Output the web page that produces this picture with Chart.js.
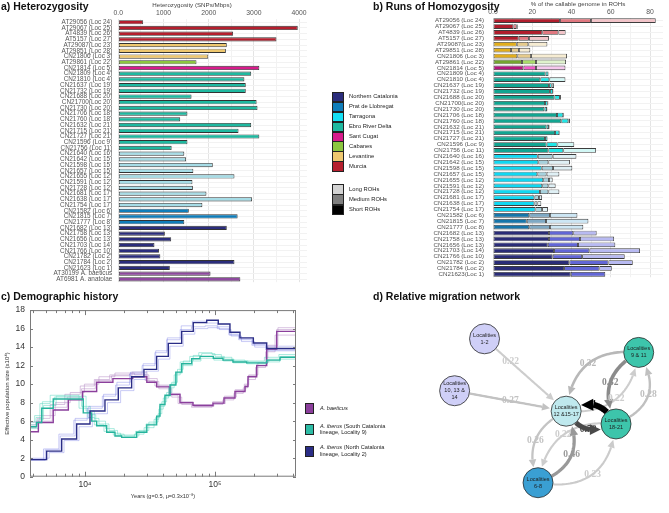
<!DOCTYPE html>
<html>
<head>
<meta charset="utf-8">
<script src="https://cdn.jsdelivr.net/npm/chart.js@4.4.1/dist/chart.umd.min.js"></script>
<style>
  body { margin: 0; background: #fff; }
  #page { position: relative; width: 669px; height: 513px; overflow: hidden;
          font-family: 'Liberation Sans', Arial, sans-serif; color: #222; }
  canvas { position: absolute; }
  .ptitle { position: absolute; font-weight: bold; font-size: 10.5px; line-height: 12px; white-space: nowrap; color: #111; }
  .axt { position: absolute; font-size: 6.2px; line-height: 8px; white-space: nowrap; color: #444; }
  .lbox { position: absolute; border: 1px solid #222; box-sizing: border-box; }
  .ltxt { position: absolute; font-size: 5.8px; line-height: 7px; white-space: nowrap; color: #222; }
  .ctxt { position: absolute; font-size: 5.6px; line-height: 6.6px; white-space: nowrap; color: #222; }
</style>
</head>
<body>
<div id="page">
  <canvas id="chartA" width="312" height="292" style="left:0;top:0"></canvas>
  <canvas id="chartB" width="289" height="290" style="left:380px;top:0"></canvas>
  <canvas id="chartC" width="300" height="213" style="left:0;top:300px"></canvas>
  <canvas id="chartD" width="339" height="213" style="left:330px;top:300px"></canvas>
  <div class="ptitle" style="left:1px;top:0px">a) Heterozygosity</div>
  <div class="ptitle" style="left:373px;top:0px">b) Runs of Homozygosity</div>
  <div class="ptitle" style="left:1px;top:290px">c) Demographic history</div>
  <div class="ptitle" style="left:373px;top:290px">d) Relative migration network</div>
  <div class="axt" style="left:192px;top:1px;transform:translateX(-50%)">Heterozygosity (SNPs/Mbps)</div>
  <div id="legendAB"></div>
  <div id="legendC"></div>
</div>
<script>
// ---- panel a: heterozygosity ----
const sampleLabelsA = [
  'AT29056 (Loc 24)', 'AT29067 (Loc 25)', 'AT4839 (Loc 26)', 'AT5157 (Loc 27)', 'AT29087(Loc 23)',
  'AT29851 (Loc 28)', 'CN21806 (Loc 3)', 'AT29861 (Loc 22)', 'CN21814 (Loc 5)', 'CN21809 (Loc 4)',
  'CN21810 (Loc 4)', 'CN21637 (Loc 19)', 'CN21732 (Loc 19)', 'CN21688 (Loc 20)', 'CN21700(Loc 20)',
  'CN21730 (Loc 20)', 'CN21706 (Loc 18)', 'CN21760 (Loc 18)', 'CN21632 (Loc 21)', 'CN21715 (Loc 21)',
  'CN21727 (Loc 21)', 'CN21596 (Loc 9)', 'CN21756 (Loc 11)', 'CN21640 (Loc 16)', 'CN21642 (Loc 15)',
  'CN21598 (Loc 15)', 'CN21657 (Loc 15)', 'CN21655 (Loc 12)', 'CN21591 (Loc 12)', 'CN21728 (Loc 12)',
  'CN21681 (Loc 17)', 'CN21638 (Loc 17)', 'CN21754 (Loc 17)', 'CN21582 (Loc 6)', 'CN21815 (Loc 7)',
  'CN21777 (Loc 8)', 'CN21682 (Loc 13)', 'CN21758 (Loc 13)', 'CN21656 (Loc 13)', 'CN21703 (Loc 14)',
  'CN21766 (Loc 10)', 'CN21782 (Loc 2)', 'CN21784 (Loc 2)', 'CN21623 (Loc 1)', 'AT30199 A. baeticus',
  'AT6981 A. anatolae'
];
const heterozygosity = [
  550, 3970, 2540, 3500, 2400, 2380, 1990, 1730, 3120, 2940,
  2790, 2820, 2820, 1620, 3060, 3080, 1530, 1370, 2940, 2660,
  3120, 1530, 1180, 1460, 1500, 2090, 1660, 2570, 1640, 1650,
  1950, 2960, 1860, 1560, 2640, 1460, 2400, 1030, 1170, 800,
  900, 930, 2570, 1140, 2040, 2700
];
const regionA = [
  'MU', 'MU', 'MU', 'MU', 'LE', 'LE', 'LE', 'CA', 'SC', 'EB',
  'EB', 'EB', 'EB', 'EB', 'EB', 'EB', 'EB', 'EB', 'EB', 'EB',
  'EB', 'EB', 'EB', 'TA', 'TA', 'TA', 'TA', 'TA', 'TA', 'TA',
  'TA', 'TA', 'TA', 'PR', 'PR', 'PR', 'NC', 'NC', 'NC', 'NC',
  'NC', 'NC', 'NC', 'NC', 'SP', 'SP'
];
const hetTicks = [0, 500, 1000, 1500, 2000, 2500, 3000, 3500, 4000];

// ---- panel b: runs of homozygosity (% of callable genome) ----
const sampleLabelsB = [
  'AT29056 (Loc 24)', 'AT29067 (Loc 25)', 'AT4839 (Loc 26)', 'AT5157 (Loc 27)', 'AT29087(Loc 23)',
  'AT29851 (Loc 28)', 'CN21806 (Loc 3)', 'AT29861 (Loc 22)', 'CN21814 (Loc 5)', 'CN21809 (Loc 4)',
  'CN21810 (Loc 4)', 'CN21637 (Loc 19)', 'CN21732 (Loc 19)', 'CN21688 (Loc 20)', 'CN21700(Loc 20)',
  'CN21730 (Loc 20)', 'CN21706 (Loc 18)', 'CN21760 (Loc 18)', 'CN21632 (Loc 21)', 'CN21715 (Loc 21)',
  'CN21727 (Loc 21)', 'CN21596 (Loc 9)', 'CN21756 (Loc 11)', 'CN21640 (Loc 16)', 'CN21642 (Loc 15)',
  'CN21598 (Loc 15)', 'CN21657 (Loc 15)', 'CN21655 (Loc 12)', 'CN21591 (Loc 12)', 'CN21728 (Loc 12)',
  'CN21681 (Loc 17)', 'CN21638 (Loc 17)', 'CN21754 (Loc 17)', 'CN21582 (Loc 6)', 'CN21815 (Loc 7)',
  'CN21777 (Loc 8)', 'CN21682 (Loc 13)', 'CN21758 (Loc 13)', 'CN21656 (Loc 13)', 'CN21703 (Loc 14)',
  'CN21766 (Loc 10)', 'CN21782 (Loc 2)', 'CN21784 (Loc 2)', 'CN21623(Loc 1)'
];
const rohShort = [
  34.1, 10.4, 25.1, 13.1, 12.1, 9.2, 12.4, 14.8, 15.5, 26.8,
  24.1, 28.5, 29.0, 31.3, 26.5, 26.2, 32.6, 34.8, 27.3, 31.6,
  26.5, 27.3, 28.2, 22.8, 23.1, 24.8, 22.6, 25.6, 25.1, 23.9,
  21.1, 21.1, 21.6, 18.5, 17.2, 18.5, 28.5, 28.5, 27.9, 31.1,
  30.4, 38.9, 36.2, 39.6
];
const rohMedium = [
  15.8, 1.7, 8.2, 5.2, 5.9, 4.0, 7.0, 7.1, 6.4, 1.4,
  4.6, 1.4, 1.6, 2.8, 1.4, 1.3, 3.2, 3.6, 1.2, 2.2,
  1.2, 5.5, 7.6, 7.6, 5.1, 5.8, 4.7, 2.9, 3.1, 4.3,
  2.3, 1.5, 3.4, 10.5, 9.8, 10.5, 12.4, 15.8, 15.4, 18.0,
  15.0, 19.9, 18.0, 17.6
];
const rohLong = [
  33.0, 0.5, 3.7, 10.2, 9.7, 5.8, 18.3, 15.3, 15.0, 0.2,
  8.2, 1.2, 0.2, 0.5, 0.3, 0.2, 0.4, 0.8, 0.3, 0.3,
  0.2, 8.6, 16.7, 12.1, 11.0, 9.8, 6.5, 1.9, 3.7, 5.6,
  1.6, 2.0, 3.0, 14.0, 21.6, 17.0, 11.9, 17.4, 19.0, 25.8,
  21.7, 12.4, 6.3, 0
];
const regionB = regionA.slice(0, 44);
const rohTicks = [0, 10, 20, 30, 40, 50, 60, 70, 80];

// ---- panel c: PSMC curves (years, Ne x10^4) ----
const baeticusT = [3700, 4380, 5700, 7450, 9600, 12300, 16400, 23300, 29900, 35600, 45100, 53800, 67700, 96600, 117300, 142500, 170200, 179500, 209300, 250000, 298600, 420000];
const baeticusNe = [4.85, 5.85, 7.2, 8.3, 9.2, 10.2, 10.6, 10.8, 10.2, 9.7, 8.9, 8.0, 7.7, 7.95, 8.5, 9.2, 9.75, 10.8, 12.0, 13.8, 15.7, 15.7];
const baeticusRep1T = [3700, 4300, 5400, 7000, 9200, 11800, 15500, 22000, 29000, 34500, 44000, 52000, 66000, 95000, 115000, 140000, 165000, 178000, 205000, 245000, 290000, 420000];
const baeticusRep1Ne = [5.6, 6.3, 7.8, 8.9, 9.8, 10.5, 11.0, 11.1, 10.4, 9.8, 8.8, 7.9, 7.5, 7.8, 8.3, 9.0, 9.6, 10.5, 11.8, 13.5, 15.3, 15.3];
const baeticusRep2T = [3700, 4500, 5900, 7700, 9900, 12800, 17000, 24000, 31000, 37000, 46500, 55500, 69500, 98000, 120000, 146000, 172000, 182000, 214000, 255000, 305000, 420000];
const baeticusRep2Ne = [5.9, 6.6, 8.0, 9.1, 10.0, 10.8, 11.2, 11.0, 10.3, 9.5, 8.6, 7.8, 7.6, 7.9, 8.6, 9.3, 9.9, 11.0, 12.3, 14.2, 16.1, 16.1];
const baeticusRep3T = [3700, 4200, 5600, 7300, 9400, 12000, 16000, 23000, 30000, 36000, 45000, 54000, 68000, 96000, 118000, 143000, 168000, 180000, 210000, 250000, 298000, 420000];
const baeticusRep3Ne = [5.3, 6.0, 7.5, 8.6, 9.5, 10.4, 10.9, 11.3, 10.6, 9.9, 9.0, 8.1, 7.8, 8.1, 8.7, 9.4, 10.0, 10.9, 12.2, 14.0, 15.9, 15.9];

const southT = [3700, 4250, 4650, 5700, 9700, 11260, 12300, 14690, 17020, 19150, 24990, 29900, 35600, 37760, 41250, 45100, 50000, 55460, 66200, 76680, 97100, 115300, 137500, 175300, 250000, 316200, 420000];
const southNe = [5.4, 5.85, 7.4, 8.4, 6.9, 6.0, 5.5, 4.8, 4.4, 4.25, 4.8, 5.6, 6.55, 7.8, 8.8, 9.9, 11.3, 12.2, 12.75, 13.0, 12.8, 12.6, 12.4, 12.3, 12.6, 12.9, 12.9];
const southRep1T = [3700, 4100, 4500, 5400, 9000, 10500, 11800, 14000, 16500, 19000, 24000, 28500, 34000, 37000, 40000, 44000, 48500, 54000, 64000, 75000, 95000, 112000, 135000, 170000, 240000, 310000, 420000];
const southRep1Ne = [5.9, 6.6, 7.9, 8.8, 7.4, 6.4, 5.6, 4.9, 4.5, 4.3, 4.6, 5.3, 6.2, 7.3, 8.5, 9.6, 11.0, 12.4, 13.0, 13.4, 13.2, 12.9, 12.6, 12.5, 12.9, 13.2, 13.2];
const southRep2T = [3700, 4400, 4800, 6000, 10200, 11800, 12800, 15300, 17800, 20000, 26000, 31000, 36500, 39000, 42500, 46500, 51500, 57000, 68000, 79000, 100000, 118000, 140000, 180000, 260000, 320000, 420000];
const southRep2Ne = [5.2, 6.2, 7.7, 8.7, 7.1, 6.3, 5.7, 5.0, 4.6, 4.4, 5.0, 5.9, 6.8, 8.1, 9.1, 10.2, 11.6, 12.5, 13.1, 13.3, 13.0, 12.7, 12.5, 12.4, 12.7, 13.0, 13.0];
const southRep3T = [3700, 4200, 4700, 5800, 9400, 11000, 12100, 14400, 16800, 18800, 24500, 29500, 35000, 37500, 41000, 45500, 50500, 56000, 67000, 78000, 98000, 116000, 138000, 176000, 252000, 315000, 420000];
const southRep3Ne = [5.6, 6.4, 8.1, 8.6, 7.6, 6.7, 6.0, 5.2, 4.7, 4.5, 4.9, 5.7, 6.4, 7.6, 8.7, 10.0, 11.2, 12.0, 12.5, 12.8, 12.6, 12.5, 12.3, 12.2, 12.4, 12.7, 12.7];

const northT = [3700, 5070, 6620, 8630, 10930, 14250, 18040, 22850, 28420, 35600, 43750, 55460, 68080, 86340, 106000, 130400, 155700, 197300, 250000, 420000];
const northNe = [1.85, 2.76, 4.08, 5.7, 7.1, 8.3, 9.6, 10.8, 11.6, 13.0, 14.4, 15.7, 16.65, 16.9, 16.5, 15.6, 15.0, 14.45, 13.85, 13.85];
const northRep1T = [3700, 4800, 6300, 8200, 10400, 13600, 17200, 22000, 27500, 34500, 42500, 54000, 66000, 84000, 104000, 128000, 152000, 192000, 245000, 420000];
const northRep1Ne = [1.9, 3.0, 4.6, 6.1, 7.4, 8.7, 9.9, 11.1, 12.0, 13.4, 14.8, 15.9, 16.2, 16.3, 16.0, 15.3, 14.8, 14.2, 13.7, 13.7];
const northRep2T = [3700, 5300, 6900, 9000, 11400, 14900, 18800, 23800, 29500, 36800, 45000, 57000, 70000, 88000, 108000, 133000, 160000, 202000, 255000, 420000];
const northRep2Ne = [2.0, 2.6, 3.9, 5.4, 6.8, 8.0, 9.3, 10.5, 11.4, 12.7, 14.1, 15.4, 16.0, 16.1, 15.9, 15.2, 14.6, 14.0, 13.6, 13.6];
const northRep3T = [3700, 4950, 6450, 8400, 10700, 13900, 17600, 22400, 28000, 35000, 43000, 55000, 67000, 85000, 105000, 129000, 154000, 195000, 248000, 420000];
const northRep3Ne = [1.75, 2.9, 4.4, 6.3, 7.6, 8.9, 10.2, 11.3, 12.2, 13.6, 15.0, 16.3, 16.8, 16.6, 16.2, 15.4, 14.9, 14.3, 14.1, 14.1];
const yearTicks = [4000, 5000, 6000, 7000, 8000, 9000, 10000, 20000, 30000, 40000, 50000, 60000, 70000, 80000, 90000, 100000, 200000, 300000, 400000];

// ---- panel d: migration network ----
const nodeNames = ['Localities\n1-2', 'Localities\n10, 13 &\n14', 'Localities\n12 &15-17', 'Localities\n18-21', 'Localities\n9 & 11', 'Localities\n6-8'];
const nodeLayoutX = [483, 450, 573, 628, 653, 542];
const nodeLayoutY = [327, 388, 412, 427, 343, 496];
const edgeFrom = [0, 1, 4, 4, 2, 3, 3, 2, 2, 3, 5, 5];
const edgeTo = [2, 2, 2, 3, 4, 4, 2, 3, 5, 5, 2, 3];
const edgeWeight = [0.22, 0.27, 0.32, 0.52, 0.22, 0.28, 1, 0.78, 0.26, 0.22, 0.46, 0.23];
const edgeBend = [0, 0, 23, 18, 22, 22, 13, 12, 18, 23, 21, 26];
const edgeLabelAt = [0.32, 0.5, 0.5, 0.5, 0.5, 0.5, 0.5, 0.5, 0.5, 0.5, 0.5, 0.5];

// legends
const legendRegions = ['Northern Catalonia', 'Prat de Llobregat', 'Tarragona', 'Ebro River Delta', 'Sant Cugat', 'Cabanes', 'Levantine', 'Murcia'];
const legendRegionKeys = ['NC', 'PR', 'TA', 'EB', 'SC', 'CA', 'LE', 'MU'];
const legendRoh = ['Long ROHs', 'Medium ROHs', 'Short ROHs'];

// colours
const hetColors = { MU: '#B51F2E', LE: '#EEC76F', CA: '#8CC63F', SC: '#D81B8C', EB: '#1FB9A0',
                    TA: '#A6DCE6', PR: '#0F7DBA', NC: '#2B2D7C', SP: '#8E4A9E' };
const legendColors = { MU: '#B51F2E', LE: '#EEC76F', CA: '#8CC63F', SC: '#D81B8C', EB: '#1FB9A0',
                       TA: '#14E0F5', PR: '#0F7DBA', NC: '#2B2D7C' };
const rohColors = {
  MU: ['#B01E2D', '#E07880', '#F2C4C9'],
  LE: ['#E2AE1C', '#E6CB8C', '#F6ECD2'],
  CA: ['#74A52F', '#A9DC6A', '#DFF2CC'],
  SC: ['#B4157D', '#F25CC9', '#F6C8EE'],
  EB: ['#12A591', '#20E6E6', '#D2F7F5'],
  TA: ['#10D8F2', '#A6D2DE', '#DFF0F5'],
  PR: ['#1675AA', '#7FA9C4', '#CCE6F4'],
  NC: ['#2A2C77', '#6266D6', '#B8BAF2']
};
const rohLegendColors = ['#D3D3D3', '#7F7F7F', '#000000'];
const nodeColors = ['#CFCFF7', '#CFCFF7', '#BFE9EE', '#3DC5AB', '#3DC5AB', '#3A9FD3'];

Chart.defaults.font.family = "'Liberation Sans', Arial, sans-serif";
Chart.defaults.devicePixelRatio = 1;

const clear = 'rgba(0,0,0,0)';

// panel a
new Chart(document.getElementById('chartA'), {
  type: 'bar',
  data: {
    labels: sampleLabelsA,
    datasets: [{
      data: heterozygosity,
      backgroundColor: regionA.map(r => hetColors[r]),
      borderColor: '#333',
      borderWidth: 0.9,
      borderSkipped: false,
      barPercentage: 0.74,
      categoryPercentage: 1
    }]
  },
  options: {
    indexAxis: 'y',
    responsive: false,
    animation: false,
    events: [],
    layout: { padding: { top: 0, right: 5, bottom: 5.4, left: 0 } },
    plugins: { legend: { display: false }, tooltip: { enabled: false } },
    scales: {
      x: {
        position: 'top', min: 0, max: 4175,
        afterBuildTicks: s => { s.ticks = hetTicks.map(v => ({ value: v })); },
        ticks: { autoSkip: false, maxRotation: 0, padding: 2, color: '#555', font: { size: 6.8 },
                 callback: v => v === 0 ? '0.0' : (v % 1000 === 0 ? String(v) : '') },
        grid: { drawTicks: false,
                color: c => !c.tick ? clear : (c.tick.value % 1000 === 0 ? '#e4e4e4' : '#f2f2f2') },
        border: { display: false },
        afterFit: s => { s.height = 19.4; }
      },
      y: {
        ticks: { autoSkip: false, padding: 6, color: '#555', font: { size: 6.4 } },
        grid: { drawTicks: false, offset: false, color: '#f2f2f2' },
        border: { display: false },
        afterFit: s => { s.width = 118.3; }
      }
    }
  }
});

// panel b
const rohSeries = [rohShort, rohMedium, rohLong];
new Chart(document.getElementById('chartB'), {
  type: 'bar',
  data: {
    labels: sampleLabelsB,
    datasets: rohSeries.map((vals, k) => ({
      data: vals,
      backgroundColor: regionB.map(r => rohColors[r][k]),
      borderColor: '#3d3d3d',
      borderWidth: 0.9,
      borderSkipped: false,
      barPercentage: 0.8,
      categoryPercentage: 1
    }))
  },
  options: {
    indexAxis: 'y',
    responsive: false,
    animation: false,
    events: [],
    layout: { padding: { top: 0, right: 6, bottom: 5.7, left: 0 } },
    plugins: { legend: { display: false }, tooltip: { enabled: false } },
    scales: {
      x: {
        position: 'top', stacked: true, min: 0, max: 86.6,
        afterBuildTicks: s => { s.ticks = rohTicks.map(v => ({ value: v })); },
        ticks: { autoSkip: false, maxRotation: 0, padding: 2, color: '#555', font: { size: 6.8 },
                 callback: v => v === 0 ? '0.0' : (v % 20 === 0 ? String(v) : '') },
        grid: { drawTicks: false,
                color: c => !c.tick ? clear : (c.tick.value % 20 === 0 ? '#e4e4e4' : '#f2f2f2') },
        border: { display: false },
        title: { display: true, text: '% of the callable genome in ROHs', color: '#444', font: { size: 6.2 },
                 padding: { top: 0.5, bottom: 0 } },
        afterFit: s => { s.height = 17.7; }
      },
      y: {
        stacked: true,
        ticks: { autoSkip: false, padding: 9, color: '#555', font: { size: 6.2 } },
        grid: { drawTicks: false, offset: false, color: '#f2f2f2' },
        border: { display: false },
        afterFit: s => { s.width = 113; }
      }
    }
  }
});

// panel c
function steps(ts, ns) { return ts.map((t, i) => ({ x: t, y: ns[i] })); }
const mainLine = (data, color) => ({ data, borderColor: color, borderWidth: 1.4, pointRadius: 0, stepped: 'before', fill: false });
const repLine = (data, color) => ({ data, borderColor: color, borderWidth: 1, pointRadius: 0, stepped: 'before', fill: false });

const frameTicks = {
  id: 'frameTicks',
  afterDraw(chart) {
    const { ctx, chartArea: a, scales: { x, y } } = chart;
    ctx.save();
    ctx.strokeStyle = '#7a7a7a';
    ctx.lineWidth = 1;
    ctx.strokeRect(a.left + 0.5, a.top + 0.5, a.width - 1, a.height - 1);
    ctx.beginPath();
    x.ticks.forEach(t => {
      const px = Math.round(x.getPixelForValue(t.value)) + 0.5;
      const len = (t.value === 10000 || t.value === 100000) ? 5 : 3;
      ctx.moveTo(px, a.bottom); ctx.lineTo(px, a.bottom - len);
      ctx.moveTo(px, a.top); ctx.lineTo(px, a.top + len);
    });
    y.ticks.forEach(t => {
      const py = Math.round(y.getPixelForValue(t.value)) + 0.5;
      ctx.moveTo(a.left, py); ctx.lineTo(a.left + 3, py);
      ctx.moveTo(a.right, py); ctx.lineTo(a.right - 3, py);
    });
    ctx.stroke();
    ctx.restore();
  }
};

new Chart(document.getElementById('chartC'), {
  type: 'line',
  data: {
    datasets: [
      mainLine(steps(northT, northNe), '#2A2D86'),
      mainLine(steps(southT, southNe), '#25B39C'),
      mainLine(steps(baeticusT, baeticusNe), '#8B3F9C'),
      repLine(steps(northRep1T, northRep1Ne), 'rgba(120,125,230,0.4)'),
      repLine(steps(northRep2T, northRep2Ne), 'rgba(120,125,230,0.4)'),
      repLine(steps(northRep3T, northRep3Ne), 'rgba(120,125,230,0.4)'),
      repLine(steps(southRep1T, southRep1Ne), 'rgba(70,210,185,0.45)'),
      repLine(steps(southRep2T, southRep2Ne), 'rgba(70,210,185,0.45)'),
      repLine(steps(southRep3T, southRep3Ne), 'rgba(70,210,185,0.45)'),
      repLine(steps(baeticusRep1T, baeticusRep1Ne), 'rgba(185,145,200,0.55)'),
      repLine(steps(baeticusRep2T, baeticusRep2Ne), 'rgba(185,145,200,0.55)'),
      repLine(steps(baeticusRep3T, baeticusRep3Ne), 'rgba(185,145,200,0.55)')
    ]
  },
  options: {
    responsive: false,
    animation: false,
    events: [],
    layout: { padding: { top: 7.3, right: 4, bottom: 0, left: 0 } },
    plugins: { legend: { display: false }, tooltip: { enabled: false } },
    scales: {
      x: {
        type: 'logarithmic', min: 3777, max: 420000,
        afterBuildTicks: s => { s.ticks = yearTicks.map(v => ({ value: v })); },
        ticks: { autoSkip: false, maxRotation: 0, minRotation: 0, padding: 3.2, color: '#333', font: { size: 8.5 },
                 callback: v => v === 10000 ? '10\u2074' : (v === 100000 ? '10\u2075' : '') },
        grid: { display: false, drawTicks: false },
        border: { display: false },
        title: { display: true, text: 'Years (g=0.5, \u03bc=0.3x10\u207b\u2078)', color: '#333', font: { size: 5.6 },
                 padding: { top: 0, bottom: 13 } },
        afterFit: s => { s.height = 36.3; }
      },
      y: {
        min: 0, max: 18,
        ticks: { stepSize: 2, padding: 5, color: '#333', font: { size: 8.5 } },
        grid: { display: false, drawTicks: false },
        border: { display: false },
        title: { display: true, text: 'Effective population size (x10\u2074)', color: '#333', font: { size: 6 },
                 padding: { top: 4, bottom: 0 } },
        afterFit: s => { s.width = 30; }
      }
    }
  },
  plugins: [frameTicks]
});

// panel d
function edgeGray(w) {
  const g = Math.round(250 * Math.pow(1 - w, 0.8));
  return 'rgb(' + g + ',' + g + ',' + g + ')';
}
const network = {
  id: 'network',
  beforeDatasetsDraw(chart) {
    const { ctx, scales: { x, y } } = chart;
    const R = 15;
    const px = i => x.getPixelForValue(nodeLayoutX[i]);
    const py = i => y.getPixelForValue(nodeLayoutY[i]);
    const order = edgeWeight.map((w, i) => i).sort((a, b) => edgeWeight[a] - edgeWeight[b]);
    const labels = [];
    ctx.save();
    order.forEach(i => {
      const s = edgeFrom[i], t = edgeTo[i], w = edgeWeight[i];
      const x0 = px(s), y0 = py(s), x2 = px(t), y2 = py(t);
      const dx = x2 - x0, dy = y2 - y0, L = Math.hypot(dx, dy);
      const nx = -dy / L, ny = dx / L;
      const cx = (x0 + x2) / 2 + nx * 2 * edgeBend[i], cy = (y0 + y2) / 2 + ny * 2 * edgeBend[i];
      const B = u => ({ x: (1 - u) * (1 - u) * x0 + 2 * (1 - u) * u * cx + u * u * x2,
                        y: (1 - u) * (1 - u) * y0 + 2 * (1 - u) * u * cy + u * u * y2 });
      const N = 200;
      let u0 = 0, u1 = 1;
      for (let k = 0; k <= N; k++) { const p = B(k / N); if (Math.hypot(p.x - x0, p.y - y0) > R) { u0 = k / N; break; } }
      for (let k = N; k >= 0; k--) { const p = B(k / N); if (Math.hypot(p.x - x2, p.y - y2) > R + 1) { u1 = k / N; break; } }
      const lw = 1 + 5 * w;
      const aLen = 5 + 1.2 * lw, aHalf = 2.4 + 0.6 * lw;
      const tip = B(u1);
      let ub = u1;
      for (let k = Math.round(u1 * N); k >= 0; k--) { const p = B(k / N); if (Math.hypot(p.x - tip.x, p.y - tip.y) >= aLen) { ub = k / N; break; } }
      const base = B(ub);
      const col = edgeGray(w);
      ctx.strokeStyle = col;
      ctx.fillStyle = col;
      ctx.lineWidth = lw;
      ctx.lineCap = 'butt';
      ctx.beginPath();
      const nSeg = 40;
      for (let k = 0; k <= nSeg; k++) {
        const p = B(u0 + (ub - u0) * k / nSeg);
        if (k === 0) ctx.moveTo(p.x, p.y); else ctx.lineTo(p.x, p.y);
      }
      ctx.stroke();
      const ax = tip.x - base.x, ay = tip.y - base.y, al = Math.hypot(ax, ay);
      const qx = -ay / al, qy = ax / al;
      ctx.beginPath();
      ctx.moveTo(tip.x, tip.y);
      ctx.lineTo(base.x + qx * aHalf, base.y + qy * aHalf);
      ctx.lineTo(base.x - qx * aHalf, base.y - qy * aHalf);
      ctx.closePath();
      ctx.fill();
      labels.push({ p: B(edgeLabelAt[i]), text: String(w), col });
    });
    ctx.font = "bold 9.5px 'Liberation Serif', 'DejaVu Serif', serif";
    ctx.textAlign = 'center';
    ctx.textBaseline = 'middle';
    labels.forEach(l => { ctx.fillStyle = l.col; ctx.fillText(l.text, l.p.x, l.p.y); });
    ctx.restore();
  },
  afterDatasetsDraw(chart) {
    const { ctx, scales: { x, y } } = chart;
    ctx.save();
    ctx.font = "5.5px 'Liberation Sans', Arial, sans-serif";
    ctx.fillStyle = '#1e1e1e';
    ctx.textAlign = 'center';
    ctx.textBaseline = 'middle';
    nodeNames.forEach((name, i) => {
      const lines = name.split('\n');
      const cx = x.getPixelForValue(nodeLayoutX[i]), cy = y.getPixelForValue(nodeLayoutY[i]);
      lines.forEach((ln, k) => ctx.fillText(ln, cx, cy + (k - (lines.length - 1) / 2) * 7));
    });
    ctx.restore();
  }
};

new Chart(document.getElementById('chartD'), {
  type: 'bubble',
  data: {
    datasets: [{
      data: nodeLayoutX.map((v, i) => ({ x: v, y: nodeLayoutY[i], r: 15 })),
      backgroundColor: nodeColors,
      borderColor: '#2a2a2a',
      borderWidth: 0.8,
      clip: false
    }]
  },
  options: {
    responsive: false,
    animation: false,
    events: [],
    layout: { padding: 0 },
    plugins: { legend: { display: false }, tooltip: { enabled: false } },
    scales: {
      x: { type: 'linear', display: false, min: 330, max: 669 },
      y: { type: 'linear', display: false, min: 300, max: 513, reverse: true }
    }
  },
  plugins: [network]
});

// legends (HTML)
const legAB = document.getElementById('legendAB');
legendRegions.forEach((name, i) => {
  const top = 91.7 + i * 9.95;
  legAB.insertAdjacentHTML('beforeend',
    `<div class="lbox" style="left:331.5px;top:${top}px;width:12px;height:10.5px;background:${legendColors[legendRegionKeys[i]]}"></div>` +
    `<div class="ltxt" style="left:349px;top:${top + 1.6}px">${name}</div>`);
});
legendRoh.forEach((name, i) => {
  const top = 184 + i * 10.3;
  legAB.insertAdjacentHTML('beforeend',
    `<div class="lbox" style="left:331.5px;top:${top}px;width:12px;height:10.8px;background:${rohLegendColors[i]}"></div>` +
    `<div class="ltxt" style="left:349px;top:${top + 1.8}px">${name}</div>`);
});

const legC = document.getElementById('legendC');
const legendSpecies = [
  ['<i>A. baeticus</i>'],
  ['<i>A. iberus</i> (South Catalonia', 'lineage, Locality 9)'],
  ['<i>A. iberus</i> (North Catalonia', 'lineage, Locality 2)']
];
const legendSpeciesColors = ['#8B3F9C', '#2DBCA5', '#2A2D86'];
const legendSpeciesY = [408.3, 429.3, 451];
legendSpecies.forEach((lines, i) => {
  const cy = legendSpeciesY[i];
  legC.insertAdjacentHTML('beforeend',
    `<div class="lbox" style="left:305px;top:${cy - 5.5}px;width:8.5px;height:11px;background:${legendSpeciesColors[i]}"></div>` +
    `<div class="ctxt" style="left:320px;top:${cy - lines.length * 3.3}px">${lines.join('<br>')}</div>`);
});
</script>
</body>
</html>
